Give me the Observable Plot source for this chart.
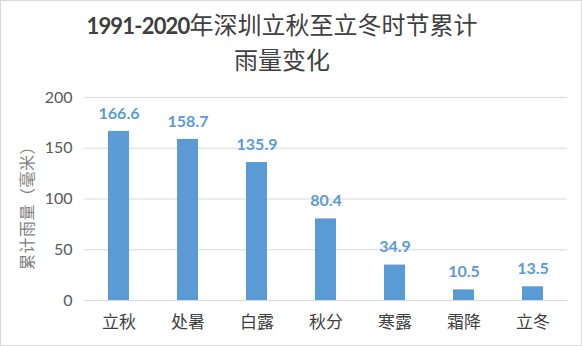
<!DOCTYPE html>
<html><head><meta charset="utf-8">
<script src="https://cdn.jsdelivr.net/npm/d3@7"></script>
<script src="https://cdn.jsdelivr.net/npm/@observablehq/plot@0.6"></script>
<style>
body{margin:0;background:#fff;}
#wrap{position:relative;width:580px;height:344px;border:1px solid #d9d9d9;background:#fff;overflow:hidden;}
#title{position:absolute;left:0;top:6px;width:562px;text-align:center;color:#404040;font-family:"Noto Sans CJK SC",sans-serif;font-size:24px;line-height:33px;}
#title .num{font-family:Lato,"Open Sans",sans-serif;font-weight:bold;font-size:22px;letter-spacing:-0.8px;}
#chart{position:absolute;left:0;top:78px;}
#ylab{position:absolute;left:25px;top:203px;transform:translate(-50%,-50%) rotate(-90deg);white-space:nowrap;font-family:"Noto Sans CJK SC",sans-serif;font-size:16px;letter-spacing:0.5px;color:#7f7f7f;}
</style></head>
<body><div id="wrap">
<div id="title"><span class="num">1991-2020</span>年深圳立秋至立冬时节累计<br>雨量变化</div>
<div id="chart"></div>
<div id="ylab"></div>
</div>
<script>
const terms = ["立秋","处暑","白露","秋分","寒露","霜降","立冬"];
const rain = [166.6,158.7,135.9,80.4,34.9,10.5,13.5];
const yTicks = [0,50,100,150,200];
const yLabel = "累计雨量（毫米）";
document.getElementById("ylab").textContent = yLabel;
const data = terms.map((t,i)=>({term:t, value:rain[i]}));
const blue = "#5b9bd5";
const plot = Plot.plot({
  width: 580, height: 264,
  marginLeft: 83, marginRight: 14, marginTop: 18, marginBottom: 43,
  x: {domain: terms, paddingInner: 0.69, paddingOuter: 0.345, label: null},
  y: {domain: [0,200], ticks: yTicks, label: null},
  style: {fontFamily: "Lato, 'Noto Sans CJK SC', sans-serif", color: "#595959", background: "transparent"},
  marks: [
    Plot.ruleY(yTicks, {stroke: "#d9d9d9", strokeWidth: 1}),
    Plot.barY(data, {x: "term", y: "value", fill: blue}),
    Plot.text(data, {x: "term", y: "value", text: d => d.value.toFixed(1), dy: -18, fill: blue, fontWeight: "bold", fontSize: 16, fontFamily: "Lato, sans-serif"}),
    Plot.axisY({ticks: yTicks, tickSize: 0, tickPadding: 12, fontSize: 16, label: null, fill: "#595959"}),
    Plot.axisX({tickSize: 0, tickPadding: 15, fontSize: 17, label: null, fill: "#404040", fontFamily: "'Noto Sans CJK SC', sans-serif"})
  ]
});
document.getElementById("chart").appendChild(plot);
</script>
</body></html>
